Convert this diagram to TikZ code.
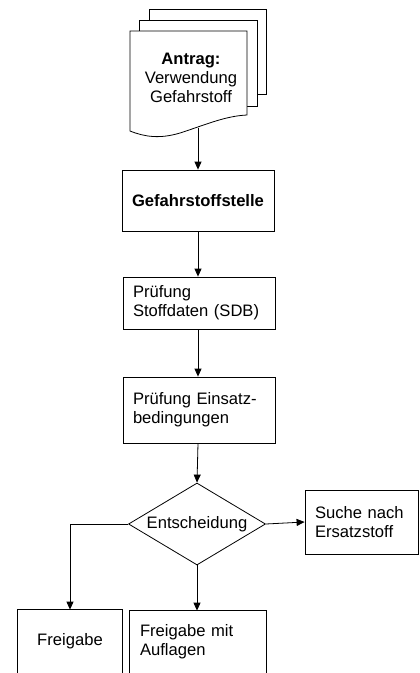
\documentclass[tikz,border=0pt]{standalone}
\usepackage{fontspec}
\setmainfont{Liberation Sans}
\usetikzlibrary{arrows.meta,shapes.geometric}
\begin{document}
\begin{tikzpicture}[x=1pt,y=1pt,
  line width=0.8pt,
  every node/.style={font=\fontsize{16.6}{18.7}\selectfont},
  box/.style={draw, minimum width=152pt, inner sep=0pt},
  lbox/.style={box, align=left, text width=132pt},
  arr/.style={-{Triangle[length=8pt,width=7pt]}},
  page/.style={draw, fill=white}
]
\useasboundingbox (0,0) rectangle (420,-673);
% document stack
\draw[page] (149,-9) rectangle (266,-94);
\draw[page] (139,-20) rectangle (257,-106);
\draw[page] (130,-31) -- (247,-31) -- (247,-115)
  .. controls (225,-116) and (205,-125) .. (180,-133)
  .. controls (160,-139) and (145,-137) .. (130,-131) -- cycle;
\node[align=center] (doc) at (191,-78) {\textbf{Antrag:}\\Verwendung\\Gefahrstoff};
\coordinate (docb) at (198,-128);
% boxes
\node[box, minimum height=61pt] (gs) at (198,-200.5) {\textbf{Gefahrstoffstelle}};
\node[lbox, minimum height=52pt] (sdb) at (199,-303) {Prüfung\\Stoffdaten (SDB)};
\node[lbox, minimum height=66pt] (ein) at (199,-410) {Prüfung Einsatz-\\bedingungen};
\node[draw, diamond, aspect=1.67, minimum width=137pt, minimum height=82pt, inner sep=0pt] (dec) at (197,-524) {Entscheidung};
\node[draw, minimum width=113pt, minimum height=64pt, inner sep=0pt, align=left, text width=93pt] (such) at (361.5,-522) {Suche nach\\Ersatzstoff};
\node[minimum width=104pt, minimum height=63pt, inner sep=0pt] (fr) at (70,-641.5) {Freigabe};
\node[minimum width=136pt, minimum height=62pt, inner sep=0pt, align=left, text width=116pt] (fra) at (198,-642) {Freigabe mit\\Auflagen};
\draw (fr.south west) |- (fr.north east) -- (fr.south east);
\draw (fra.south west) |- (fra.north east) -- (fra.south east);
% connectors
\draw[arr] (docb) -- (gs.north);
\draw[arr] (gs.south) -- (sdb.north -| gs.south);
\draw[arr] (sdb.south -| gs.south) -- (ein.north -| gs.south);
\draw[arr] (ein.south -| gs.south) -- (dec.north);
\draw[arr] (dec.east) -- (such.west);
\draw[arr] (dec.south) -- (fra.north -| dec.south);
\draw[arr] (dec.west) -| (fr.north);
\end{tikzpicture}
\end{document}
